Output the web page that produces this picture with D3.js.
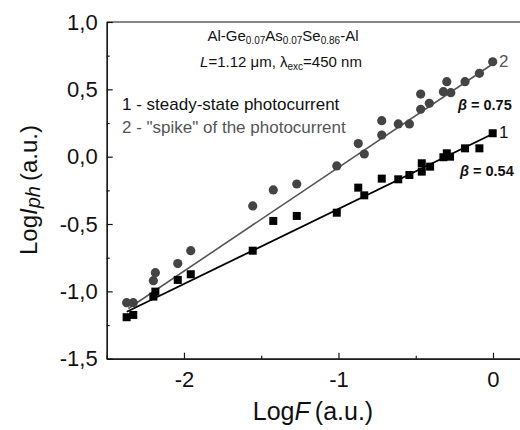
<!DOCTYPE html>
<html>
<head>
<meta charset="utf-8">
<script src="https://cdn.jsdelivr.net/npm/d3@7"></script>
<style>
  body { margin: 0; background: #fff; }
  svg { display: block; font-family: "Liberation Sans", Arial, sans-serif; }
</style>
</head>
<body>
<div id="chart"></div>
<script>
// series 2 - "spike" of the photocurrent (grey circles)
var spikeX = [-2.371, -2.328, -2.198, -2.185, -2.040, -1.956, -1.555, -1.422, -1.270, -1.011,
              -0.872, -0.833, -0.720, -0.720, -0.613, -0.541, -0.468, -0.468, -0.412, -0.321,
              -0.299, -0.273, -0.181, -0.088, -0.002];
var spikeY = [-1.084, -1.084, -0.921, -0.861, -0.794, -0.698, -0.366, -0.247, -0.203, -0.069,
              0.097, 0.020, 0.161, 0.267, 0.243, 0.243, 0.352, 0.465, 0.396, 0.483,
              0.557, 0.475, 0.557, 0.619, 0.705];

// series 1 - steady-state photocurrent (black squares)
var steadyX = [-2.371, -2.328, -2.198, -2.185, -2.040, -1.956, -1.555, -1.422, -1.270, -1.011,
               -0.872, -0.833, -0.720, -0.613, -0.541, -0.461, -0.461, -0.407, -0.321, -0.299,
               -0.278, -0.181, -0.088, -0.002];
var steadyY = [-1.192, -1.175, -1.039, -1.002, -0.915, -0.873, -0.698, -0.477, -0.440, -0.416,
               -0.230, -0.287, -0.163, -0.168, -0.136, -0.049, -0.111, -0.074, -0.004, 0.025,
               0.000, 0.062, 0.062, 0.174];

// linear fits
var spikeFitX = [-2.36, 0];
var spikeFitY = [-1.127, 0.69];
var steadyFitX = [-2.37, 0];
var steadyFitY = [-1.151, 0.17];

var xTicks = [-2, -1, 0];
var xMinor = [-2.5, -1.5, -0.5];
var yTicks = [-1.5, -1.0, -0.5, 0.0, 0.5, 1.0];
var yMinor = [-1.25, -0.75, -0.25, 0.25, 0.75];

var margin = {top: 22, left: 106.7},
    width = 417.2,
    height = 336.7;

var svg = d3.select("#chart").append("svg")
    .attr("width", 520)
    .attr("height", 430);

var g = svg.append("g")
    .attr("transform", "translate(" + margin.left + "," + margin.top + ")");

var x = d3.scaleLinear().domain([-2.5, 0.2]).range([0, width]);
var y = d3.scaleLinear().domain([-1.5, 1.0]).range([height, 0]);

function comma(d) { return d3.format(".1f")(d).replace(".", ",").replace("\u2212", "-"); }

// axes, ticks pointing inward
g.append("g")
    .attr("transform", "translate(0," + height + ")")
    .call(d3.axisBottom(x).tickValues(xTicks).tickSizeInner(-6).tickSizeOuter(0)
      .tickPadding(13).tickFormat(function(d) { return String(d); }));
g.append("g")
    .attr("transform", "translate(0," + height + ")")
    .call(d3.axisBottom(x).tickValues(xMinor).tickSizeInner(-3).tickSizeOuter(0).tickFormat(""));

g.append("g")
    .call(d3.axisLeft(y).tickValues(yTicks).tickSizeInner(-6).tickSizeOuter(0)
      .tickPadding(9).tickFormat(comma));
g.append("g")
    .call(d3.axisLeft(y).tickValues(yMinor).tickSizeInner(-3).tickSizeOuter(0).tickFormat(""));

g.selectAll(".domain, .tick line").attr("stroke", "#111").attr("stroke-width", 1.2);
g.selectAll(".tick text")
    .attr("fill", "#111")
    .style("font-size", "22px")
    .style("font-family", "'Liberation Sans', Arial, sans-serif");

// top frame line
g.append("line")
    .attr("x1", 0).attr("x2", width)
    .attr("y1", 0).attr("y2", 0)
    .attr("stroke", "#111").attr("stroke-width", 1.2);

// axis titles
var xt = svg.append("text")
    .attr("x", 313).attr("y", 420)
    .attr("text-anchor", "middle")
    .style("font-size", "25px")
    .attr("fill", "#111");
xt.append("tspan").text("Log");
xt.append("tspan").style("font-style", "italic").text("F");
xt.append("tspan").attr("dx", 5).text("(a.u.)");

var yt = svg.append("text")
    .attr("transform", "translate(37,190) rotate(-90)")
    .attr("text-anchor", "middle")
    .style("font-size", "24px")
    .attr("fill", "#111");
yt.append("tspan").text("Log");
yt.append("tspan").style("font-style", "italic").text("I");
yt.append("tspan").style("font-style", "italic").style("font-size", "20px").attr("dy", 3).text("ph");
yt.append("tspan").attr("dy", -3).attr("dx", 5).text("(a.u.)");

// fit lines
var line = d3.line()
    .x(function(d) { return x(d[0]); })
    .y(function(d) { return y(d[1]); });

g.append("path")
    .datum(d3.zip(spikeFitX, spikeFitY))
    .attr("d", line)
    .attr("fill", "none")
    .attr("stroke", "#555")
    .attr("stroke-width", 1.6);

g.append("path")
    .datum(d3.zip(steadyFitX, steadyFitY))
    .attr("d", line)
    .attr("fill", "none")
    .attr("stroke", "#000")
    .attr("stroke-width", 1.8);

// points
g.selectAll(".spike")
    .data(d3.zip(spikeX, spikeY))
    .enter().append("circle")
    .attr("class", "spike")
    .attr("cx", function(d) { return x(d[0]); })
    .attr("cy", function(d) { return y(d[1]); })
    .attr("r", 4.6)
    .attr("fill", "#444");

var sq = 8;
g.selectAll(".steady")
    .data(d3.zip(steadyX, steadyY))
    .enter().append("rect")
    .attr("class", "steady")
    .attr("x", function(d) { return x(d[0]) - sq / 2; })
    .attr("y", function(d) { return y(d[1]) - sq / 2; })
    .attr("width", sq)
    .attr("height", sq)
    .attr("fill", "#000");

// annotations
var t1 = svg.append("text")
    .attr("x", 283).attr("y", 41)
    .attr("text-anchor", "middle")
    .style("font-size", "15px")
    .attr("fill", "#111");
t1.append("tspan").text("Al-Ge");
t1.append("tspan").attr("dy", 3).style("font-size", "10px").text("0.07");
t1.append("tspan").attr("dy", -3).text("As");
t1.append("tspan").attr("dy", 3).style("font-size", "10px").text("0.07");
t1.append("tspan").attr("dy", -3).text("Se");
t1.append("tspan").attr("dy", 3).style("font-size", "10px").text("0.86");
t1.append("tspan").attr("dy", -3).text("-Al");

var t2 = svg.append("text")
    .attr("x", 281).attr("y", 67)
    .attr("text-anchor", "middle")
    .style("font-size", "15px")
    .attr("fill", "#111");
t2.append("tspan").style("font-style", "italic").text("L");
t2.append("tspan").text("=1.12 \u03bcm, \u03bb");
t2.append("tspan").attr("dy", 3).style("font-size", "10px").text("exc");
t2.append("tspan").attr("dy", -3).text("=450 nm");

svg.append("text")
    .attr("x", 122).attr("y", 110)
    .style("font-size", "17px")
    .attr("fill", "#111")
    .text("1 - steady-state photocurrent");

svg.append("text")
    .attr("x", 122).attr("y", 133)
    .style("font-size", "17px")
    .attr("fill", "#555")
    .text("2 - \"spike\" of the photocurrent");

svg.append("text")
    .attr("x", 499).attr("y", 67)
    .style("font-size", "17px")
    .attr("fill", "#555")
    .text("2");

svg.append("text")
    .attr("x", 499).attr("y", 138)
    .style("font-size", "17px")
    .attr("fill", "#111")
    .text("1");

function beta(xp, yp, val) {
  var t = svg.append("text")
      .attr("x", xp).attr("y", yp)
      .style("font-size", "14.5px")
      .style("font-weight", "bold")
      .attr("fill", "#111");
  t.append("tspan").style("font-style", "italic").text("\u03b2");
  t.append("tspan").text(" = " + val);
}
beta(458, 110, "0.75");
beta(460, 176, "0.54");
</script>
</body>
</html>
